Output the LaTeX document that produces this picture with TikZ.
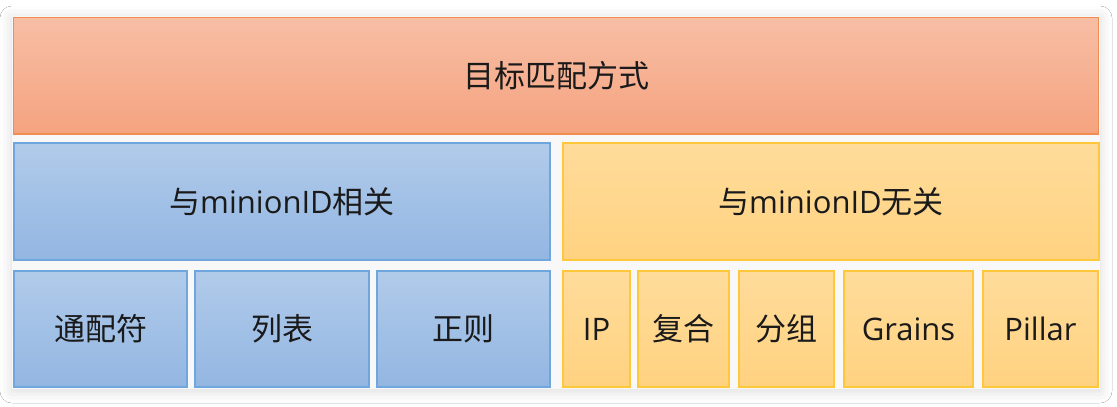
\documentclass[tikz,border=0pt]{standalone}
\usepackage{fontspec}
\setmainfont{Open Sans}
\newfontfamily\cjk{Noto Sans CJK SC}
\usetikzlibrary{shadows.blur}
\definecolor{panelbg}{HTML}{F8F8F8}
\definecolor{orgtop}{HTML}{F7BEA5}
\definecolor{orgbot}{HTML}{F5A37F}
\definecolor{orgline}{HTML}{F28D52}
\definecolor{blutop}{HTML}{B1CBEA}
\definecolor{blubot}{HTML}{93B6E2}
\definecolor{bluline}{HTML}{6FA6DE}
\definecolor{yeltop}{HTML}{FFDC9B}
\definecolor{yelbot}{HTML}{FFD280}
\definecolor{yelline}{HTML}{FFC83A}
\definecolor{txt}{HTML}{1A1A1A}
\tikzset{
  cell/.style={rectangle, inner sep=0pt, line width=1.3pt, text=txt,
    font=\fontsize{31}{37}\selectfont},
  orangecell/.style={cell, draw=orgline, top color=orgtop, bottom color=orgbot},
  bluecell/.style={cell, draw=bluline, top color=blutop, bottom color=blubot},
  yellowcell/.style={cell, draw=yelline, top color=yeltop, bottom color=yelbot},
}
\begin{document}
\begin{tikzpicture}[x=1pt,y=-1pt]
\useasboundingbox (0,0) rectangle (1117,407);
\fill[white] (0,0) rectangle (1117,407);
% panel with soft shadow
\node[rectangle, inner sep=0pt, fill=panelbg, minimum width=1088pt, minimum height=373pt,
  blur shadow={shadow xshift=0pt, shadow yshift=-2pt, shadow blur radius=12pt, shadow opacity=15}]
  (panel) at (556,202.5) {};
% top
\node[orangecell, minimum width=1085pt, minimum height=116.5pt] (top) at (556,75.75) {\cjk 目标匹配方式};
% middle
\node[bluecell, minimum width=536pt, minimum height=117pt] (rel) at (282,201.5) {{\cjk 与}minionID{\cjk 相关}};
\node[yellowcell, minimum width=536pt, minimum height=117pt] (unrel) at (831,201.5) {{\cjk 与}minionID{\cjk 无关}};
% bottom
\node[bluecell, minimum width=173pt, minimum height=116pt] (wild) at (100.5,329) {\cjk 通配符};
\node[bluecell, minimum width=174pt, minimum height=116pt] (list) at (282,329) {\cjk 列表};
\node[bluecell, minimum width=173pt, minimum height=116pt] (regex) at (463.5,329) {\cjk 正则};
\node[yellowcell, minimum width=67pt, minimum height=116pt] (ip) at (596.5,329) {IP};
\node[yellowcell, minimum width=91pt, minimum height=116pt] (compound) at (683.5,329) {\cjk 复合};
\node[yellowcell, minimum width=95pt, minimum height=116pt] (group) at (786.5,329) {\cjk 分组};
\node[yellowcell, minimum width=129pt, minimum height=116pt] (grains) at (908.5,329) {Grains};
\node[yellowcell, minimum width=115pt, minimum height=116pt] (pillar) at (1040.5,329) {Pillar};
\end{tikzpicture}
\end{document}
